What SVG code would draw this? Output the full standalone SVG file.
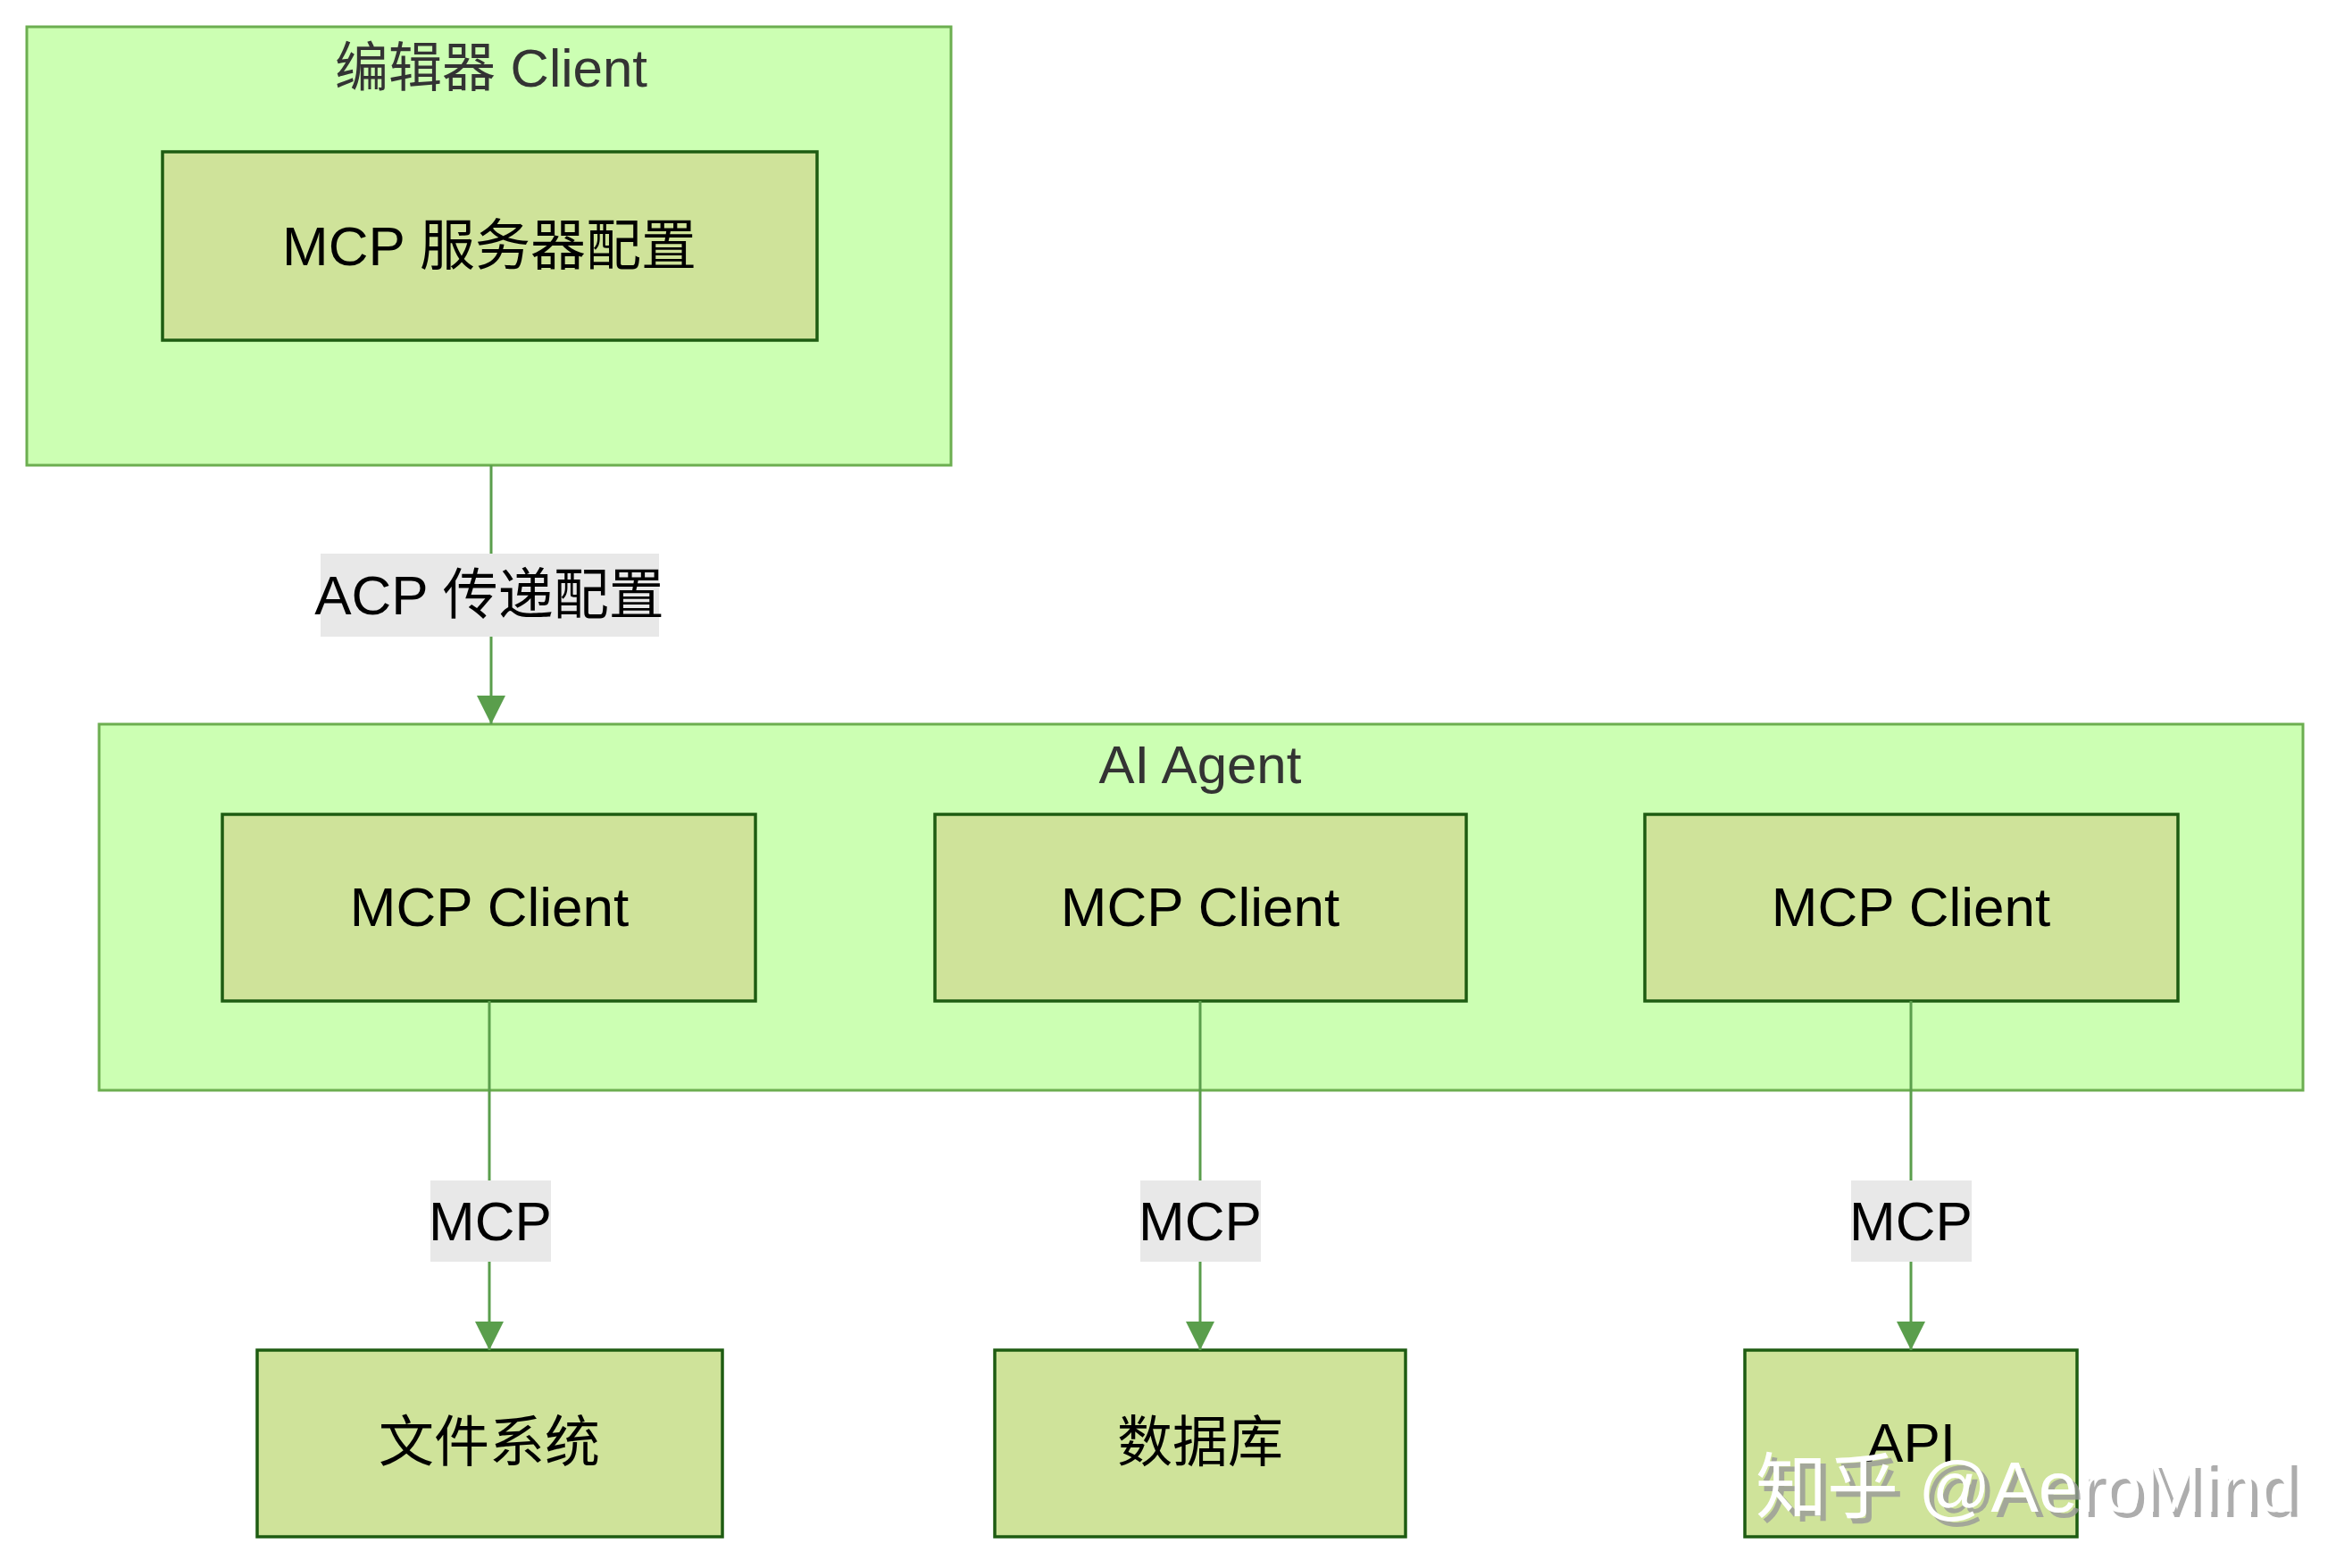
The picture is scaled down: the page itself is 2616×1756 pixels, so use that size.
<svg xmlns="http://www.w3.org/2000/svg" width="2616" height="1756" viewBox="0 0 2616 1756">
<style>
.grp{fill:#ccffb3;stroke:#6cae50;stroke-width:3}
.nd{fill:#cfe39a;stroke:#1e5c12;stroke-width:3.5}
.t{font-family:"Liberation Sans","Noto Sans CJK SC",sans-serif;text-anchor:middle;dominant-baseline:central}
.gt{font-size:60px;fill:#333}
.nt{font-size:62px;fill:#000}
.lb{fill:#e8e8e8}
.e{stroke:#5a9e4c;stroke-width:3;fill:none}
</style>
<defs>
<marker id="a" viewBox="0 0 10 10" refX="10" refY="5" markerWidth="32" markerHeight="32" markerUnits="userSpaceOnUse" orient="auto"><path d="M0,0L10,5L0,10z" fill="#5a9e4c"/></marker></defs>
<g id="editor"><rect class="grp" x="30" y="30" width="1035" height="491"/><text class="t gt" x="550" y="76">编辑器 Client</text></g>
<g id="config"><rect class="nd" x="182" y="170" width="733" height="211"/><text class="t nt" x="548" y="275">MCP 服务器配置</text></g>
<g id="agent"><rect class="grp" x="111" y="811" width="2468" height="410"/><text class="t gt" x="1344" y="856">AI Agent</text></g>
<g id="c1"><rect class="nd" x="249" y="912" width="597" height="209"/><text class="t nt" x="548" y="1015">MCP Client</text></g>
<g id="c2"><rect class="nd" x="1047" y="912" width="595" height="209"/><text class="t nt" x="1344" y="1015">MCP Client</text></g>
<g id="c3"><rect class="nd" x="1842" y="912" width="597" height="209"/><text class="t nt" x="2140" y="1015">MCP Client</text></g>
<g id="fs"><rect class="nd" x="288" y="1512" width="521" height="209"/><text class="t nt" x="548" y="1615">文件系统</text></g>
<g id="db"><rect class="nd" x="1114" y="1512" width="460" height="209"/><text class="t nt" x="1344" y="1615">数据库</text></g>
<g id="api"><rect class="nd" x="1954" y="1512" width="372" height="209"/><text class="t nt" x="2140" y="1615">API</text></g>
<g id="edges">
<path class="e" d="M550,521V811" marker-end="url(#a)"/>
<path class="e" d="M548,1121V1512" marker-end="url(#a)"/>
<path class="e" d="M1344,1121V1512" marker-end="url(#a)"/>
<path class="e" d="M2140,1121V1512" marker-end="url(#a)"/>
<rect class="lb" x="359" y="620" width="379" height="93"/><text class="t nt" x="548" y="666">ACP 传递配置</text>
<rect class="lb" x="482" y="1322" width="135" height="91"/><text class="t nt" x="549" y="1367">MCP</text>
<rect class="lb" x="1277" y="1322" width="135" height="91"/><text class="t nt" x="1344" y="1367">MCP</text>
<rect class="lb" x="2073" y="1322" width="135" height="91"/><text class="t nt" x="2140" y="1367">MCP</text>
</g>
<g id="watermark" font-family="Liberation Sans,Noto Sans CJK SC,sans-serif" font-size="80">
<text x="1972" y="1699" fill="#999" opacity="0.8">知乎 @AeroMind</text>
<text x="1966" y="1693" fill="#fff">知乎 @AeroMind</text>
</g>
</svg>
